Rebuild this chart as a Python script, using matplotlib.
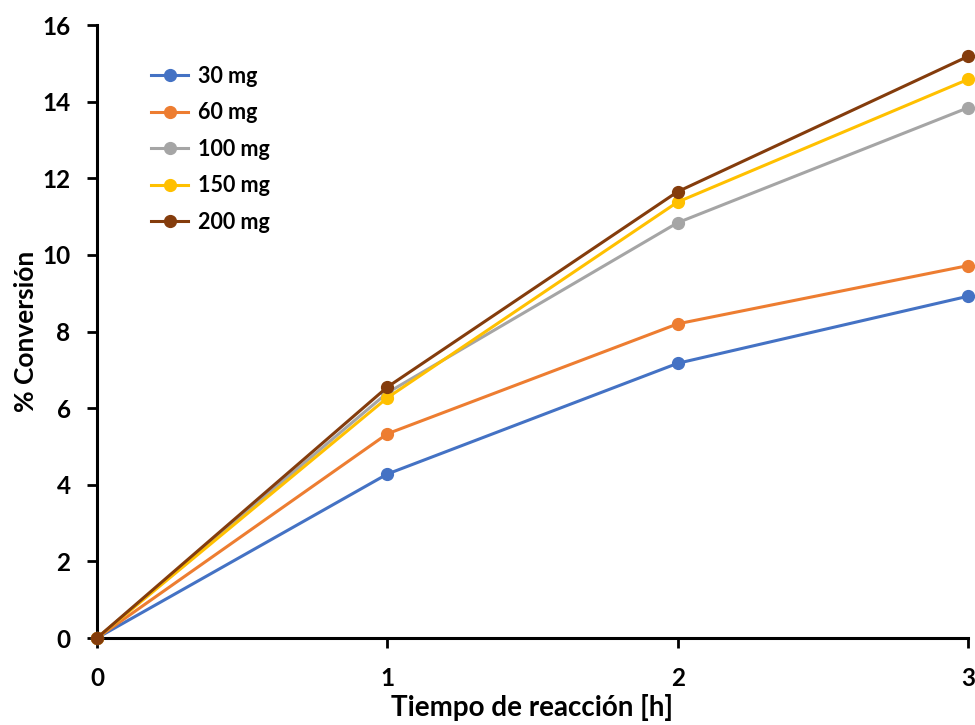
import matplotlib
matplotlib.use("Agg")
import matplotlib.pyplot as plt

plt.rcParams['font.family'] = ['Lato', 'DejaVu Sans']

tiempo = [0, 1, 2, 3]
series_labels = ["30 mg", "60 mg", "100 mg", "150 mg", "200 mg"]
conv_30 = [0, 4.28, 7.17, 8.92]
conv_60 = [0, 5.33, 8.20, 9.72]
conv_100 = [0, 6.40, 10.84, 13.84]
conv_150 = [0, 6.27, 11.38, 14.58]
conv_200 = [0, 6.55, 11.65, 15.18]
colors = ["#4472C4", "#ED7D31", "#A5A5A5", "#FFC000", "#843C0C"]

fig = plt.figure(figsize=(9.75, 7.25), dpi=100)
ax = fig.add_axes([0.0995, 0.12, 0.8933, 0.8455])

for vals, lab, col in zip([conv_30, conv_60, conv_100, conv_150, conv_200],
                          series_labels, colors):
    ax.plot(tiempo, vals, color=col, lw=2.2, marker='o', ms=8.5,
            label=lab, clip_on=False, zorder=3)

ax.set_xlim(0, 3)
ax.set_ylim(0, 16)
ax.set_xticks([0, 1, 2, 3])
ax.set_yticks(range(0, 17, 2))
for s in ['top', 'right']:
    ax.spines[s].set_visible(False)
for s in ['left', 'bottom']:
    ax.spines[s].set_linewidth(2.2)
    ax.spines[s].set_color('black')
ax.tick_params(axis='both', which='major', direction='out', width=2, length=7,
               labelsize=17.5)
ax.tick_params(axis='y', pad=12)
ax.tick_params(axis='x', pad=14)
for lbl in ax.get_xticklabels() + ax.get_yticklabels():
    lbl.set_fontweight('bold')

ax.set_xlabel("Tiempo de reacción [h]", fontsize=20, fontweight='bold', labelpad=3)
ax.set_ylabel("% Conversión", fontsize=19, fontweight='bold', labelpad=3)

ax.legend(loc='upper left', bbox_to_anchor=(0.04, 0.965), frameon=False,
          handlelength=1.7, labelspacing=0.72, handletextpad=0.45,
          prop={'weight': 'bold', 'size': 15.5})

fig.savefig("out.png", dpi=100)
